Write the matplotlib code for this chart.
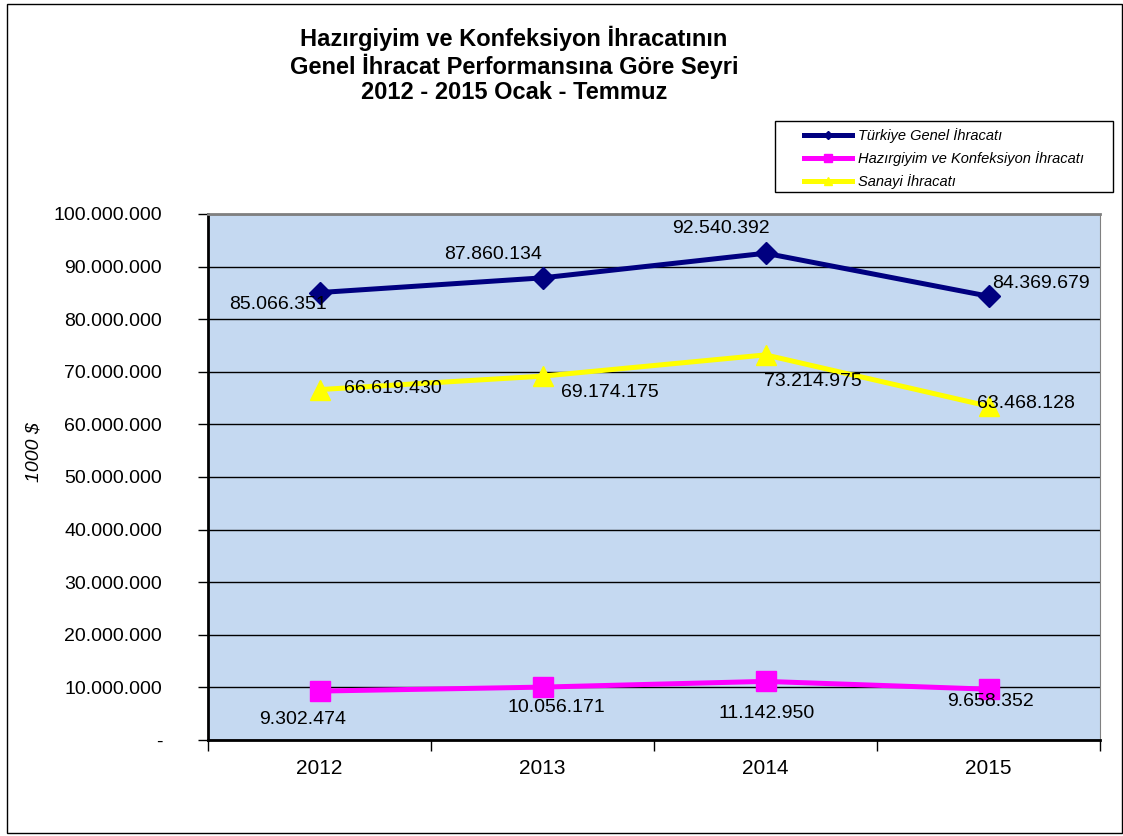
import matplotlib.pyplot as plt
from matplotlib.patches import Rectangle
from matplotlib.ticker import FuncFormatter, FixedLocator

plt.rcParams['font.family'] = ['Liberation Sans', 'DejaVu Sans']

years = ['2012', '2013', '2014', '2015']
genel = [85066351, 87860134, 92540392, 84369679]
hazir = [9302474, 10056171, 11142950, 9658352]
sanayi = [66619430, 69174175, 73214975, 63468128]

# label offsets in pixels from each point
off_genel = [(-42, -12), (-49, 23), (-45, 25), (52, 13)]
off_hazir = [(-17, -28), (14, -20), (1, -32), (2, -12)]
off_sanayi = [(73, 1), (67, -16), (47, -27), (37, 3)]

def fmt(v):
    return '{:,}'.format(int(v)).replace(',', '.')

fig = plt.figure(figsize=(11.23, 8.36), dpi=100)
fig.patches.append(Rectangle((7 / 1123, 3 / 836), 1115 / 1123, 829 / 836,
                             transform=fig.transFigure, fill=False,
                             edgecolor='black', linewidth=1))
# legend frame (drawn separately so the entries can sit further right)
fig.patches.append(Rectangle((775 / 1123, 1 - 192 / 836), 338 / 1123, 71 / 836,
                             transform=fig.transFigure, fill=False,
                             edgecolor='black', linewidth=1))

ax = fig.add_axes([208 / 1123, 1 - 740 / 836, 892 / 1123, 526 / 836])
ax.set_facecolor('#C5D9F1')
x = list(range(len(years)))

ax.plot(x, genel, color='#000080', lw=3.6, marker='D', ms=11, label='Türkiye Genel İhracatı', zorder=3)
ax.plot(x, hazir, color='#FF00FF', lw=3.6, marker='s', ms=14, label='Hazırgiyim ve Konfeksiyon İhracatı', zorder=3)
ax.plot(x, sanayi, color='#FFFF00', lw=3.6, marker='^', ms=15, label='Sanayi İhracatı', zorder=3)

for vals, offs in [(genel, off_genel), (hazir, off_hazir), (sanayi, off_sanayi)]:
    for xi, v, o in zip(x, vals, offs):
        ax.annotate(fmt(v), (xi, v), xytext=o, textcoords='offset pixels',
                    ha='center', va='center', fontsize=14, zorder=4)

ax.set_xlim(-0.5, 3.5)
ax.set_ylim(0, 100000000)
ax.yaxis.set_major_locator(FixedLocator([i * 10000000 for i in range(11)]))
ax.yaxis.set_major_formatter(FuncFormatter(lambda v, p: '-' if v == 0 else fmt(v)))
ax.grid(axis='y', color='black', lw=1)
ax.set_axisbelow(True)
ax.set_xticks(x)
ax.set_xticklabels(years)
ax.set_xticks([-0.5, 0.5, 1.5, 2.5, 3.5], minor=True)
ax.tick_params(axis='x', which='major', length=0, pad=14, labelsize=15)
ax.tick_params(axis='x', which='minor', length=8, width=1)
ax.tick_params(axis='y', length=7, width=1, pad=26, labelsize=14)

ax.spines['top'].set_color('#808080')
ax.spines['top'].set_linewidth(2)
ax.spines['right'].set_color('#808080')
ax.spines['left'].set_linewidth(2)
ax.spines['bottom'].set_linewidth(2)

fig.text(34 / 1123, 1 - 452 / 836, '1000 $', rotation=90, ha='center', va='center',
         fontsize=14, style='italic')

fig.text(514 / 1123, 1 - 65 / 836,
         'Hazırgiyim ve Konfeksiyon İhracatının\nGenel İhracat Performansına Göre Seyri\n2012 - 2015 Ocak - Temmuz',
         ha='center', va='center', fontsize=17, fontweight='bold', linespacing=1.12)

leg = ax.legend(loc='upper left', bbox_to_anchor=(801 / 1123, 1 - 125 / 836),
                bbox_transform=fig.transFigure, frameon=False,
                prop={'style': 'italic', 'size': 10.5},
                handlelength=3.3, handletextpad=0.4, markerscale=0.4, borderaxespad=0,
                borderpad=0.2, labelspacing=0.55)

fig.savefig('out.png', dpi=100)
